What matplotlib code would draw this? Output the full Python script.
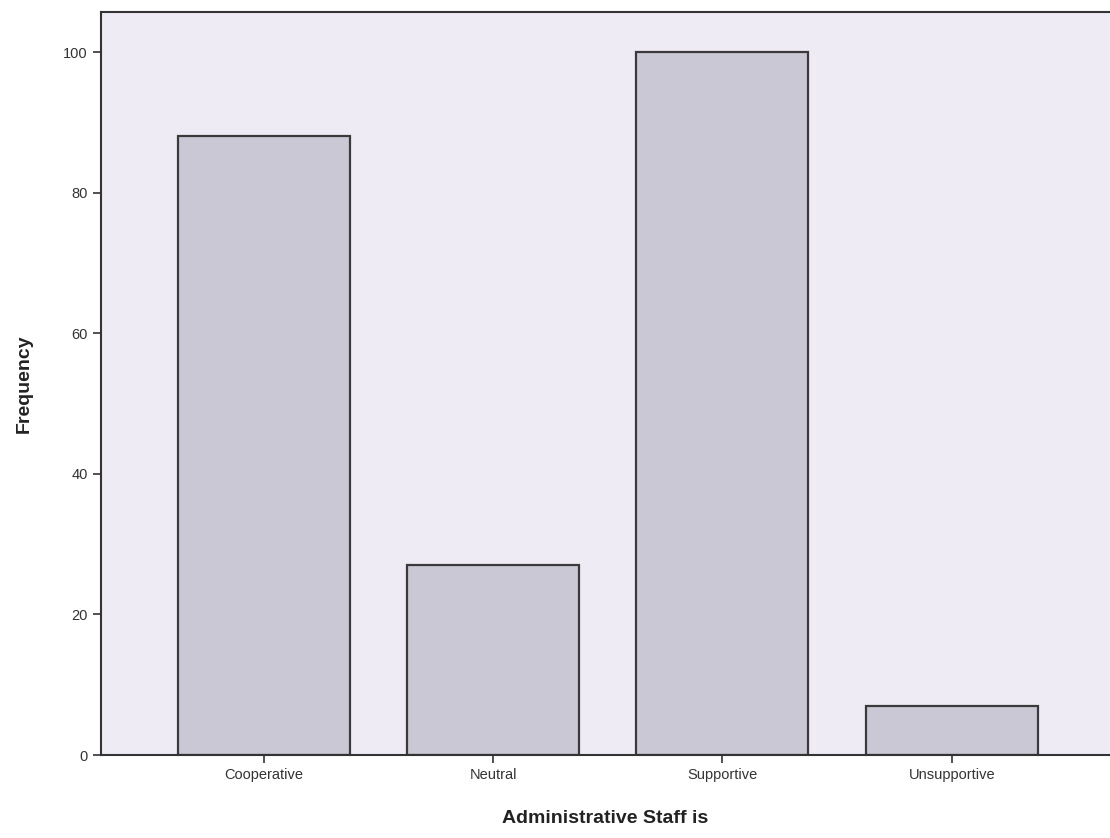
import matplotlib
matplotlib.use('Agg')
import matplotlib.pyplot as plt

plt.rcParams['font.family'] = ['Liberation Sans', 'DejaVu Sans']

# Datos
categorias = ['Cooperative', 'Neutral', 'Supportive', 'Unsupportive']
frecuencias = [88, 27, 100, 7]
yticks = [0, 20, 40, 60, 80, 100]

fig = plt.figure(figsize=(11.1, 8.38), dpi=100)
ax = fig.add_axes([0.091, 0.099, 0.909, 0.8867])
ax.set_facecolor('#efebf4')

x = range(len(categorias))
ax.bar(x, frecuencias, width=0.75, color='#cac8d4', edgecolor='#3a3a3a', linewidth=1.6)

ax.set_xlim(-0.71, 3.69)
ax.set_ylim(0, 105.7)
ax.set_xticks(list(x))
ax.set_xticklabels(categorias, fontsize=10.5, color='#333333')
ax.set_yticks(yticks)
ax.set_yticklabels([str(v) for v in yticks], fontsize=10.5, color='#333333')
ax.tick_params(axis='both', direction='out', length=6, width=1.2, color='#333333')

for lado in ['left', 'bottom', 'top']:
    ax.spines[lado].set_color('#333333')
    ax.spines[lado].set_linewidth(1.5)
ax.spines['right'].set_visible(False)

ax.set_ylabel('Frequency', fontsize=14, fontweight='bold', color='#222222', labelpad=22)
ax.set_xlabel('Administrative Staff is', fontsize=14, fontweight='bold', color='#222222', labelpad=20)

fig.savefig('out.png', dpi=100, facecolor='white')
